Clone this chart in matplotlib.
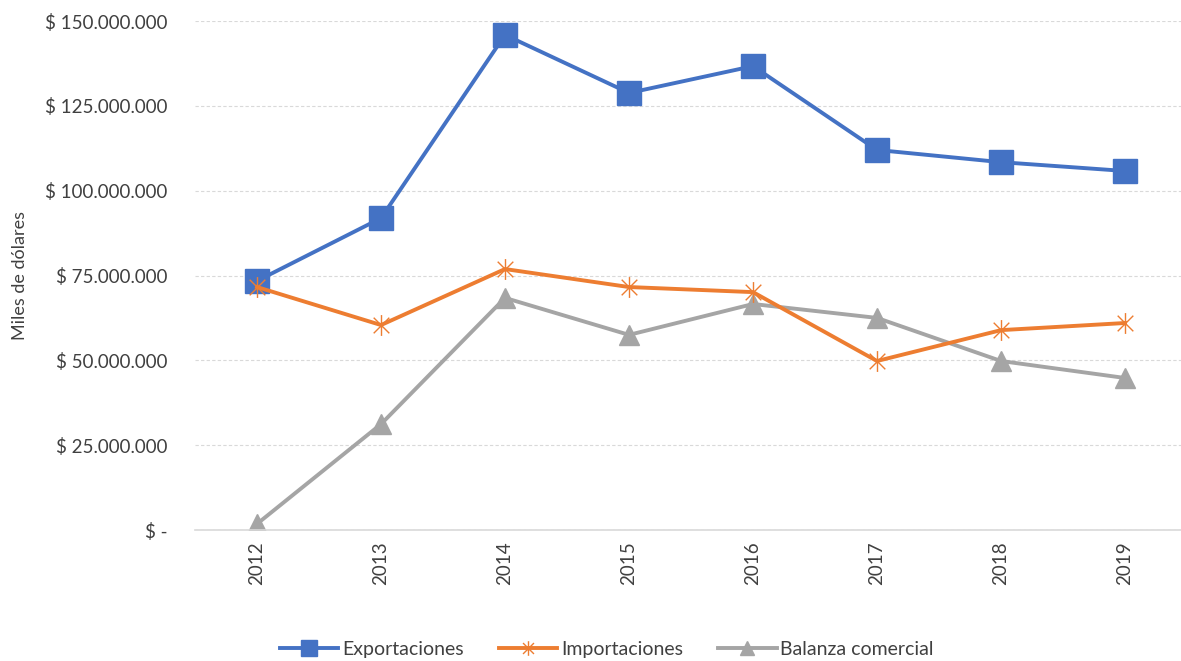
import numpy as np
import matplotlib.pyplot as plt
from matplotlib.path import Path
from matplotlib.ticker import FuncFormatter

# ---------------------------------------------------------------------
# DATA (miles de dólares)
# ---------------------------------------------------------------------

years = ["2012", "2013", "2014", "2015", "2016", "2017", "2018", "2019"]

exportaciones = [73.4e6, 91.9e6, 145.9e6, 128.8e6, 136.7e6, 112.0e6, 108.4e6, 105.8e6]
importaciones = [71.6e6, 60.4e6, 76.9e6, 71.6e6, 70.1e6, 49.8e6, 58.9e6, 61.0e6]
balanza = [1.8e6, 31.2e6, 68.4e6, 57.5e6, 66.6e6, 62.5e6, 49.8e6, 44.8e6]

y_ticks = [0, 25e6, 50e6, 75e6, 100e6, 125e6, 150e6]


def money(v, pos):
    if v == 0:
        return "$ -"
    return "$ " + f"{int(v):,}".replace(",", ".")


# Excel-like star marker: X plus a vertical stroke
star = Path(
    [(0, -1), (0, 1), (-0.75, -0.75), (0.75, 0.75), (-0.75, 0.75), (0.75, -0.75)],
    [Path.MOVETO, Path.LINETO, Path.MOVETO, Path.LINETO, Path.MOVETO, Path.LINETO],
)

plt.rcParams["font.family"] = ["Lato", "DejaVu Sans"]

fig = plt.figure(figsize=(11.81, 6.61), dpi=100)
ax = fig.add_axes([195 / 1181, 131 / 661, 992 / 1181, 509 / 661])

x = np.arange(len(years))

ax.plot(x, exportaciones, color="#4472C4", lw=2.8, marker="s", ms=17,
        label="Exportaciones", zorder=3)
ax.plot(x, importaciones, color="#ED7D31", lw=2.8, marker=star, ms=15,
        mfc="none", mec="#ED7D31", mew=1.0, label="Importaciones", zorder=4)
ax.plot(x, balanza, color="#A5A5A5", lw=2.8, marker="^", ms=14,
        label="Balanza comercial", zorder=2)

ax.set_xlim(-0.5, len(years) - 0.5)
ax.set_ylim(0, 150e6)
ax.set_yticks(y_ticks)
ax.yaxis.set_major_formatter(FuncFormatter(money))
ax.set_xticks(x)
ax.set_xticklabels(years, rotation=90)

ax.grid(axis="y", color="#D9D9D9", ls=(0, (3, 2)), lw=0.8)
ax.set_axisbelow(True)
for side in ["top", "right", "left"]:
    ax.spines[side].set_visible(False)
ax.spines["bottom"].set_color("#D9D9D9")
ax.spines["bottom"].set_linewidth(1.2)

ax.tick_params(axis="both", length=0, labelsize=13.5, colors="#404040")
ax.tick_params(axis="y", pad=20)
ax.tick_params(axis="x", pad=8)

ax.set_ylabel("Miles de dólares", fontsize=13, color="#404040", labelpad=12)

fig.legend(*ax.get_legend_handles_labels(), loc="center",
           bbox_to_anchor=(0.514, 0.017), ncol=3, frameon=False,
           fontsize=14, handlelength=3.0, columnspacing=1.8, markerscale=0.7,
           labelcolor="#404040", handletextpad=0.2)

fig.savefig("out.png", dpi=100)
